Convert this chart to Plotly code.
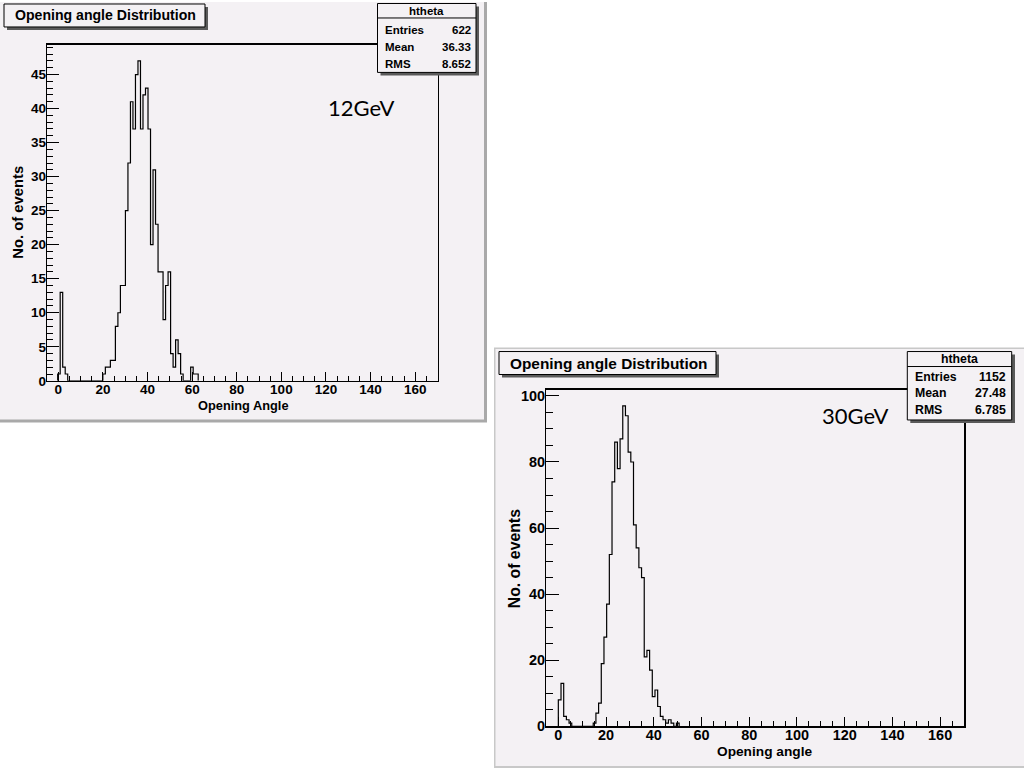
import plotly.graph_objects as go

# ---------------- data ----------------
bin_width = 1.125
first_edge_12 = -0.3
counts_12 = [1, 13, 2, 1,
             0, 0, 0, 0, 0, 0, 0, 0, 0, 0, 0, 0, 0, 0,
             1, 2, 2, 3, 3, 8, 10, 14, 14, 25, 32, 41, 37, 45, 47, 37,
             42, 43, 37, 20, 31, 23, 16, 16, 9, 14, 16, 4, 2, 6, 4, 1,
             0, 0, 0, 2, 1, 1]
first_edge_30 = 0.0
counts_30 = [8, 13, 3, 2, 1,
             0, 0, 0, 0, 0, 0, 0, 0,
             1, 4, 7, 19, 27, 37, 52, 74, 86, 78, 87, 97, 94, 83, 80, 61,
             54, 48, 45, 21, 23, 17, 9, 11, 6, 3, 2, 1, 2, 1,
             0, 1]
x_range = [-5, 170]
x_ticks = [0, 20, 40, 60, 80, 100, 120, 140, 160]
y_ticks_12 = [0, 5, 10, 15, 20, 25, 30, 35, 40, 45]
y_ticks_30 = [0, 20, 40, 60, 80, 100]
hist_name = "htheta"
hist_title = "Opening angle Distribution"
stat_names = ["Entries", "Mean", "RMS"]
stat_vals_12 = ["622", "36.33", "8.652"]
stat_vals_30 = ["1152", "27.48", "6.785"]
energy_12 = "12GeV"
energy_30 = "30GeV"
x_title_12 = "Opening Angle"
x_title_30 = "Opening angle"
y_title = "No. of events"

# ---------------- style ----------------
W, H = 1024, 768          # reference picture size (layout coordinates below are in these pixels)
FIG_H = 777               # page height that maps onto the 768-pixel photograph
BG = "#f4f1f4"
SHADOW = "#5a5a5a"
EDGE = "#a9a9a9"
SANS = "Liberation Sans, Arial, Helvetica, sans-serif"


def fx(x):
    return x / W


def fy(y):
    return 1 - y / H


def step_xy(first_edge, w, counts):
    xs, ys = [], []
    for i, c in enumerate(counts):
        xs.append(first_edge + i * w)
        ys.append(c)
    xs = [first_edge] + xs + [first_edge + len(counts) * w]
    ys = [0] + ys + [0]
    return xs, ys


fig = go.Figure()

x1, y1 = step_xy(first_edge_12, bin_width, counts_12)
x2, y2 = step_xy(first_edge_30, bin_width, counts_30)
fig.add_trace(go.Scatter(x=x1, y=y1, mode="lines", line=dict(color="black", width=1.2, shape="hv"),
                         xaxis="x", yaxis="y", showlegend=False, hoverinfo="skip"))
fig.add_trace(go.Scatter(x=x2, y=y2, mode="lines", line=dict(color="black", width=1.2, shape="hv"),
                         xaxis="x2", yaxis="y2", showlegend=False, hoverinfo="skip"))

# panel frames (pixels)
P1 = dict(l=47.2, r=437.5, t=43.0, b=379.3, s=1.0)
P2 = dict(l=546.4, r=964.0, t=388.3, b=725.3, s=1.07)


def xaxis_cfg(p):
    return dict(domain=[fx(p["l"]), fx(p["r"])], range=x_range, tickmode="array", tickvals=x_ticks,
                ticks="inside", ticklen=9 * p["s"], tickwidth=1, tickcolor="black",
                minor=dict(dtick=5, tick0=0, ticks="inside", ticklen=5 * p["s"], tickcolor="black", tickwidth=1),
                showline=True, linecolor="black", linewidth=1.5, mirror=True,
                showgrid=False, zeroline=False, ticklabelstandoff=-5,
                tickfont=dict(family=SANS, size=13.5 * p["s"], color="black", weight="bold"))


def yaxis_cfg(p, ymax, ticks, minor):
    return dict(domain=[fy(p["b"]), fy(p["t"])], range=[0, ymax], tickmode="array", tickvals=ticks,
                ticks="inside", ticklen=12 * p["s"], tickwidth=1, tickcolor="black",
                minor=dict(dtick=minor, tick0=0, ticks="inside", ticklen=6 * p["s"], tickcolor="black", tickwidth=1),
                showline=True, linecolor="black", linewidth=1.5, mirror=True,
                showgrid=False, zeroline=False, ticklabelstandoff=-3,
                tickfont=dict(family=SANS, size=13.5 * p["s"], color="black", weight="bold"))


shapes = []
annotations = []


def rect(x0, y0, x1_, y1_, fill, line_color=None, lw=0, layer="above"):
    shapes.append(dict(type="rect", xref="paper", yref="paper",
                       x0=fx(x0), x1=fx(x1_), y0=fy(y1_), y1=fy(y0),
                       fillcolor=fill, line=dict(color=line_color or fill, width=lw), layer=layer))


def hline(x0, x1_, y, color="black", lw=1):
    shapes.append(dict(type="line", xref="paper", yref="paper", x0=fx(x0), x1=fx(x1_), y0=fy(y), y1=fy(y),
                       line=dict(color=color, width=lw), layer="above"))


def text(x, y, s, size, xanchor="center", bold=True, family=SANS, angle=0):
    annotations.append(dict(xref="paper", yref="paper", x=fx(x), y=fy(y), text=s, showarrow=False,
                            xanchor=xanchor, yanchor="middle", textangle=angle,
                            font=dict(family=family, size=size, color="black",
                                      weight="bold" if bold else "normal")))


# canvases
rect(0, 0, 487, 421, EDGE, layer="below")
rect(0, 0, 484, 418, BG, layer="below")
rect(494, 346, 1024, 768, "#c8c8c8", layer="below")
rect(495.5, 347.5, 1024, 765, BG, layer="below")

# title boxes
rect(7, 5, 208, 28, SHADOW)
rect(4, 2, 205, 25, BG, "black", 1)
text(13, 13.5, hist_title, 14.1, xanchor="left")
rect(502, 353, 719, 376, SHADOW)
rect(499, 350, 716, 373, BG, "black", 1)
text(508, 361.5, hist_title, 15.4, xanchor="left")

# stats boxes
rect(380.5, 4.5, 479, 73.5, SHADOW)
rect(377.5, 1.5, 476, 70.5, BG, "black", 1)
hline(377.5, 476, 16)
text(426.7, 9, hist_name, 11.5)
for i, (n, v) in enumerate(zip(stat_names, stat_vals_12)):
    yy = 28.3 + i * 16.7
    text(383, yy, n, 11.5, xanchor="left")
    text(472.5, yy, v, 11.5, xanchor="right")

rect(910.3, 353, 1015, 421.5, SHADOW)
rect(907.3, 350, 1011.7, 418.5, BG, "black", 1)
hline(907.3, 1011.7, 365)
text(959.5, 357.5, hist_name, 12.3)
for i, (n, v) in enumerate(zip(stat_names, stat_vals_30)):
    yy = 375 + i * 16.7
    text(913, yy, n, 12.3, xanchor="left")
    text(1007.5, yy, v, 12.3, xanchor="right")

# energy labels
text(361, 106, energy_12, 22, bold=False, family="Lato, Open Sans, sans-serif")
text(855, 414, energy_30, 22, bold=False, family="Lato, Open Sans, sans-serif")

# axis titles
text(243, 404, x_title_12, 12.8)
text(764, 750, x_title_30, 13.7)
text(18, 211, y_title, 14.8, angle=-90)
text(514, 558, y_title, 15.8, angle=-90)

fig.update_layout(
    width=W, height=FIG_H, margin=dict(l=0, r=0, t=0, b=0),
    paper_bgcolor="white", plot_bgcolor=BG,
    xaxis=dict(**xaxis_cfg(P1), anchor="y"),
    yaxis=dict(**yaxis_cfg(P1, 49.35, y_ticks_12, 1), anchor="x"),
    xaxis2=dict(**xaxis_cfg(P2), anchor="y2"),
    yaxis2=dict(**yaxis_cfg(P2, 101.85, y_ticks_30, 5), anchor="x2"),
    shapes=shapes, annotations=annotations, showlegend=False,
)

fig.write_html(
    "out.html",
    config={"displayModeBar": False, "staticPlot": True},
    post_script=("document.body.style.margin='0px';"
                 "var d=document.getElementById('{plot_id}');"
                 "d.style.position='fixed';d.style.left='0px';d.style.top='0px';"),
)
